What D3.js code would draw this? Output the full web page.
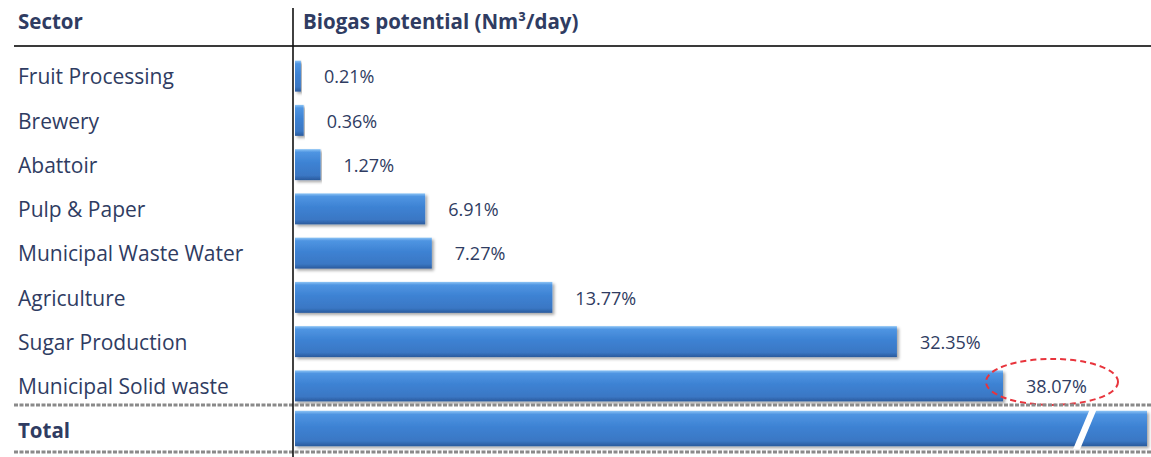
<!DOCTYPE html>
<html>
<head>
<meta charset="utf-8">
<script src="https://cdn.jsdelivr.net/npm/d3@7"></script>
<style>
  body { margin: 0; background: #fff; }
  text { font-family: "Open Sans", Lato, sans-serif; }
</style>
</head>
<body>
<div id="chart"></div>
<script>
// data
const sectors = ["Fruit Processing", "Brewery", "Abattoir", "Pulp & Paper",
  "Municipal Waste Water", "Agriculture", "Sugar Production", "Municipal Solid waste"]
const shares = [0.21, 0.36, 1.27, 6.91, 7.27, 13.77, 32.35, 38.07]
const totalLabel = "Total"
const totalShare = 100
const headers = ["Sector", "Biogas potential (Nm³/day)"]
const highlighted = "Municipal Solid waste"

const width = 1151, height = 457
const textColor = "#2f3c62"

const svg = d3.select("#chart").append("svg")
    .attr("width", width)
    .attr("height", height)

const defs = svg.append("defs")
const grad = defs.append("linearGradient").attr("id", "barGrad")
    .attr("x1", 0).attr("y1", 0).attr("x2", 0).attr("y2", 1)
grad.selectAll("stop").data([
  [0, "#8cc4f5"], [0.1, "#4f95e2"], [0.45, "#3d82d3"], [0.85, "#3a77c4"], [1, "#2a5a9c"]
]).join("stop")
    .attr("offset", d => d[0])
    .attr("stop-color", d => d[1])
const shadow = defs.append("filter").attr("id", "shadow")
    .attr("x", "-5%").attr("y", "-20%").attr("width", "110%").attr("height", "150%")
shadow.append("feDropShadow")
    .attr("dx", 2).attr("dy", 2).attr("stdDeviation", 1.5)
    .attr("flood-color", "#000").attr("flood-opacity", 0.35)

const x = d3.scaleLinear().domain([0, 38.07]).range([297, 1003])
const y = d3.scaleBand().domain(sectors).range([54, 408]).paddingInner(0.3).paddingOuter(0.15)
const totalY = d3.scaleBand().domain([totalLabel]).range([405, 452]).padding(0.14)
const plotRight = 1147
const barLeft = 295

// header
svg.append("text").attr("x", 18).attr("y", 29)
    .attr("font-size", 20.5).attr("font-weight", "bold").attr("fill", textColor)
    .text(headers[0])
svg.append("text").attr("x", 303).attr("y", 29)
    .attr("font-size", 20.5).attr("font-weight", "bold").attr("fill", textColor)
    .text(headers[1])

// sector labels
svg.selectAll(".label").data(sectors).join("text")
    .attr("class", "label")
    .attr("x", 18)
    .attr("y", d => y(d) + y.bandwidth() / 2 + 1)
    .attr("dy", "0.35em")
    .attr("font-size", 21)
    .attr("fill", textColor)
    .text(d => d)

// bars
svg.selectAll(".bar").data(sectors).join("rect")
    .attr("class", "bar")
    .attr("x", barLeft)
    .attr("y", d => y(d))
    .attr("width", (d, i) => x(shares[i]) - barLeft)
    .attr("height", y.bandwidth())
    .attr("fill", "url(#barGrad)")
    .attr("filter", "url(#shadow)")

// value labels
svg.selectAll(".value").data(sectors).join("text")
    .attr("class", "value")
    .attr("x", (d, i) => x(shares[i]) + 23)
    .attr("y", d => y(d) + y.bandwidth() / 2 + 1)
    .attr("dy", "0.35em")
    .attr("font-size", 18)
    .attr("fill", textColor)
    .text((d, i) => shares[i].toFixed(2) + "%")

// highlight ellipse
const hi = sectors.indexOf(highlighted)
svg.append("ellipse")
    .attr("cx", x(shares[hi]) + 49)
    .attr("cy", y(highlighted) + y.bandwidth() / 2 - 4)
    .attr("rx", 66).attr("ry", 23)
    .attr("fill", "none")
    .attr("stroke", "#e8343c")
    .attr("stroke-width", 2)
    .attr("stroke-dasharray", "6,4")

// total row, bar is broken since 100% runs off the scale
svg.append("text")
    .attr("x", 18)
    .attr("y", totalY(totalLabel) + totalY.bandwidth() / 2 + 2)
    .attr("dy", "0.35em")
    .attr("font-size", 20.5).attr("font-weight", "bold").attr("fill", textColor)
    .text(totalLabel)
svg.append("rect")
    .attr("x", barLeft)
    .attr("y", totalY(totalLabel))
    .attr("width", Math.min(x(totalShare), plotRight) - barLeft)
    .attr("height", totalY.bandwidth())
    .attr("fill", "url(#barGrad)")
    .attr("filter", "url(#shadow)")
const ty0 = totalY(totalLabel) - 2, ty1 = totalY(totalLabel) + totalY.bandwidth() + 3
svg.append("polygon")
    .attr("points", [[1073, ty1], [1080, ty1], [1097, ty0], [1090, ty0]].join(" "))
    .attr("fill", "#fff")

// rules
svg.append("line").attr("x1", 14).attr("x2", width).attr("y1", 46).attr("y2", 46)
    .attr("stroke", "#3a3a3a").attr("stroke-width", 2)
svg.selectAll(".dots").data([405, 452]).join("line")
    .attr("class", "dots")
    .attr("x1", 14).attr("x2", width)
    .attr("y1", d => d).attr("y2", d => d)
    .attr("stroke", "#8a8a8a").attr("stroke-width", 3)
    .attr("stroke-dasharray", "4,1.5")
svg.append("line").attr("x1", 293).attr("x2", 293).attr("y1", 8).attr("y2", height)
    .attr("stroke", "#111").attr("stroke-width", 1.6)
</script>
</body>
</html>
